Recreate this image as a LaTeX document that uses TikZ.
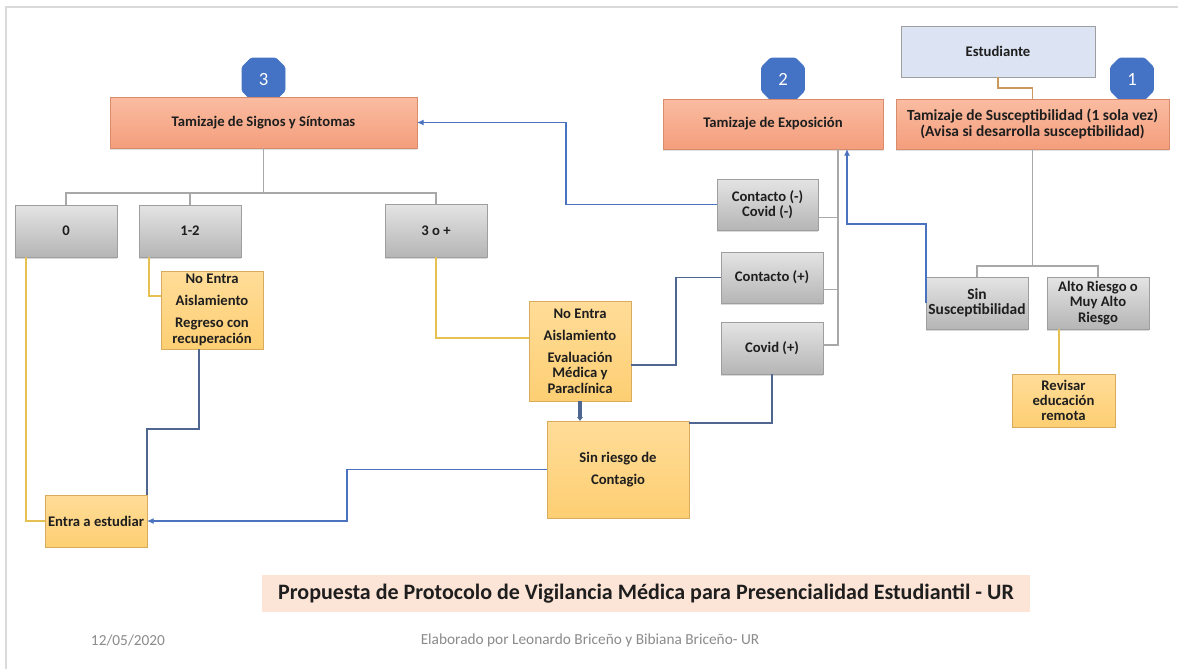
\documentclass[tikz,border=0pt]{standalone}
\usepackage{fontspec}
\setmainfont{Carlito}
\usetikzlibrary{shapes.misc,arrows.meta,calc,shadows}

\definecolor{ink}{HTML}{1E1E1E}
\definecolor{framegray}{HTML}{DADADA}
\definecolor{salmonhi}{HTML}{FABCA1}
\definecolor{salmonlo}{HTML}{F49E7C}
\definecolor{salmonline}{HTML}{D98C6C}
\definecolor{grayhi}{HTML}{E4E4E4}
\definecolor{graylo}{HTML}{B5B5B5}
\definecolor{grayline}{HTML}{9E9E9E}
\definecolor{yelhi}{HTML}{FFDC98}
\definecolor{yello}{HTML}{FDCF73}
\definecolor{yelline}{HTML}{D8AC5C}
\definecolor{stud}{HTML}{DCE4F3}
\definecolor{badgeblue}{HTML}{4472C4}
\definecolor{arrowblue}{HTML}{4A72BE}
\definecolor{slate}{HTML}{4E6690}
\definecolor{conngray}{HTML}{A8A8A8}
\definecolor{connyel}{HTML}{E6C050}
\definecolor{conntan}{HTML}{C99A5C}
\definecolor{peach}{HTML}{FCE4D6}
\definecolor{footgray}{HTML}{8A8A8A}

\tikzset{
  lbl/.style={font=\fontsize{11}{11.5}\selectfont\bfseries, text=ink, align=center, inner sep=0pt, outer sep=0pt},
  sz/.style 2 args={minimum width=#1*0.75pt, minimum height=#2*0.75pt},
  orangebox/.style={lbl, draw=salmonline, top color=salmonhi, bottom color=salmonlo,
    drop shadow={shadow xshift=0pt, shadow yshift=-1.2pt, opacity=.25}},
  graybox/.style={lbl, draw=grayline, top color=grayhi, bottom color=graylo,
    drop shadow={shadow xshift=0pt, shadow yshift=-1.2pt, opacity=.3}},
  yellowbox/.style={lbl, draw=yelline, top color=yelhi, bottom color=yello},
  badge/.style={chamfered rectangle, chamfered rectangle xsep=3.5pt, rounded corners=1pt,
    fill=badgeblue, draw=badgeblue, text=white, inner sep=0pt, sz={43}{42},
    font=\fontsize{14}{14}\selectfont},
  grayln/.style={draw=conngray, line width=0.9pt},
  yelln/.style={draw=connyel, line width=0.9pt},
  blueln/.style={draw=arrowblue, line width=0.9pt},
  slateln/.style={draw=slate, line width=0.9pt},
  tip/.style={-{Latex[length=5pt,width=4.5pt]}},
}

\begin{document}
\begin{tikzpicture}[x=0.75pt, y=-0.75pt]
\useasboundingbox (0,0) rectangle (1178,669);
\draw[framegray, line width=0.8pt] (6,669) -- (6,7) -- (1178,7);

% numbered badges sit behind the screening boxes
\foreach \n/\x in {3/263.5,2/783,1/1132} \node[badge] (b\n) at (\x,79) {\n};

% screening steps
\node[orangebox, sz={307}{51}] (sig) at (263.5,122.5) {Tamizaje de Signos y Síntomas};
\node[orangebox, sz={220}{50}] (expo) at (773,124) {Tamizaje de Exposición};
\node[orangebox, sz={273}{50}, font=\fontsize{11.6}{11.5}\selectfont\bfseries] (susc) at (1032.5,124) {Tamizaje de Susceptibilidad (1 sola vez)\\(Avisa si desarrolla susceptibilidad)};
\node[lbl, draw=grayline, fill=stud, sz={194}{51}] (est) at (998,51.5) {Estudiante};

% outcomes
\node[graybox, sz={102}{52}] (g0) at (66,231) {0};
\node[graybox, sz={102}{52}] (g12) at (190,231) {1-2};
\node[graybox, sz={102}{53}] (g3) at (436,230.5) {3 o +};
\node[graybox, sz={101}{51}] (cneg) at (767.5,204.5) {Contacto (-)\\Covid (-)};
\node[graybox, sz={102}{51}] (cpos) at (772,277.5) {Contacto (+)};
\node[graybox, sz={102}{52}] (vpos) at (772,348) {Covid (+)};
\node[graybox, sz={102}{52}, font=\fontsize{11.6}{11.5}\selectfont\bfseries] (sinsu) at (977,303) {Sin\\Susceptibilidad};
\node[graybox, sz={102}{52}] (alto) at (1098,303) {Alto Riesgo o\\Muy Alto\\Riesgo};

% actions
\node[yellowbox, sz={102}{78}] (ne1) at (212,310) {No Entra\\[5pt]Aislamiento\\[5pt]Regreso con\\recuperación};
\node[yellowbox, sz={102}{100}] (ne2) at (580,351) {No Entra\\[5pt]Aislamiento\\[5pt]Evaluación\\Médica y\\Paraclínica};
\node[yellowbox, sz={142}{97}] (sinr) at (618,469.5) {Sin riesgo de\\[5pt]Contagio};
\node[yellowbox, sz={102}{52}] (entra) at (96,521) {Entra a estudiar};
\node[yellowbox, sz={103}{53}] (rev) at (1063.5,400.5) {Revisar\\educación\\remota};

% step 1
\draw[conntan, line width=0.9pt] (est.south) -- ++(0,11) -| (susc.north);
\coordinate (sj) at ($(susc.south)+(0,117)$);
\draw[grayln] (susc.south) -- (sj);
\draw[grayln] (sinsu.north) |- (sj) -| (alto.north);
\draw[yelln] ($(alto.south west)+(12,0)$) -- ($(rev.north west)+(47,0)$);
\draw[blueln, tip] (sinsu.west) -- ++(0,-79) -| ($(expo.south east)+(-36,0)$);

% step 2
\coordinate (et) at ($(expo.south east)+(-45,0)$);
\draw[grayln] (et) |- ($(vpos.east)+(0,-3)$);
\draw[grayln] ($(cneg.east)+(0,13)$) -- ($(cneg.east -| et)+(0,13)$);
\draw[grayln] ($(cpos.east)+(0,12)$) -- ($(cpos.east -| et)+(0,12)$);
\draw[blueln, tip] (cneg.west) -| ($(sig.east)+(149,0)$) -- (sig.east);
\draw[slateln] ($(ne2.east)+(0,14)$) -- ++(45,0) |- (cpos.west);
\draw[slateln] (vpos.south) |- ($(sinr.north east)+(0,2)$);

% step 3
\coordinate (sj2) at ($(sig.south)+(0,45)$);
\draw[grayln] (sig.south) -- (sj2);
\draw[grayln] (g0.north) |- (sj2) -| (g3.north);
\draw[grayln] (g12.north) |- (sj2);
\draw[yelln] ($(g0.south west)+(11,0)$) |- (entra.west);
\draw[yelln] ($(g12.south west)+(10,0)$) |- ($(ne1.north west)+(0,25)$);
\draw[yelln] (g3.south) |- ($(ne2.north west)+(0,37)$);
\draw[slateln] ($(ne1.south west)+(38,0)$) -- ++(0,80) -| (entra.north east);
\draw[slate, line width=2.6pt, -{Latex[length=3pt,width=5pt]}] (ne2.south) -- (ne2.south |- sinr.north);
\draw[blueln, tip] (sinr.west) -- ++(-200,0) |- (entra.east);

% caption and footer
\node[lbl, fill=peach, sz={768}{37}, font=\fontsize{16.5}{18}\selectfont\bfseries] (title) at (646,593.5) {Propuesta de Protocolo de Vigilancia Médica para Presencialidad Estudiantil - UR};
\node[text=footgray, font=\fontsize{11.5}{13}\selectfont] (date) at (128,640) {12/05/2020};
\node[text=footgray, font=\fontsize{11.5}{13}\selectfont] (credit) at (590,640) {Elaborado por Leonardo Briceño y Bibiana Briceño- UR};
\end{tikzpicture}
\end{document}
